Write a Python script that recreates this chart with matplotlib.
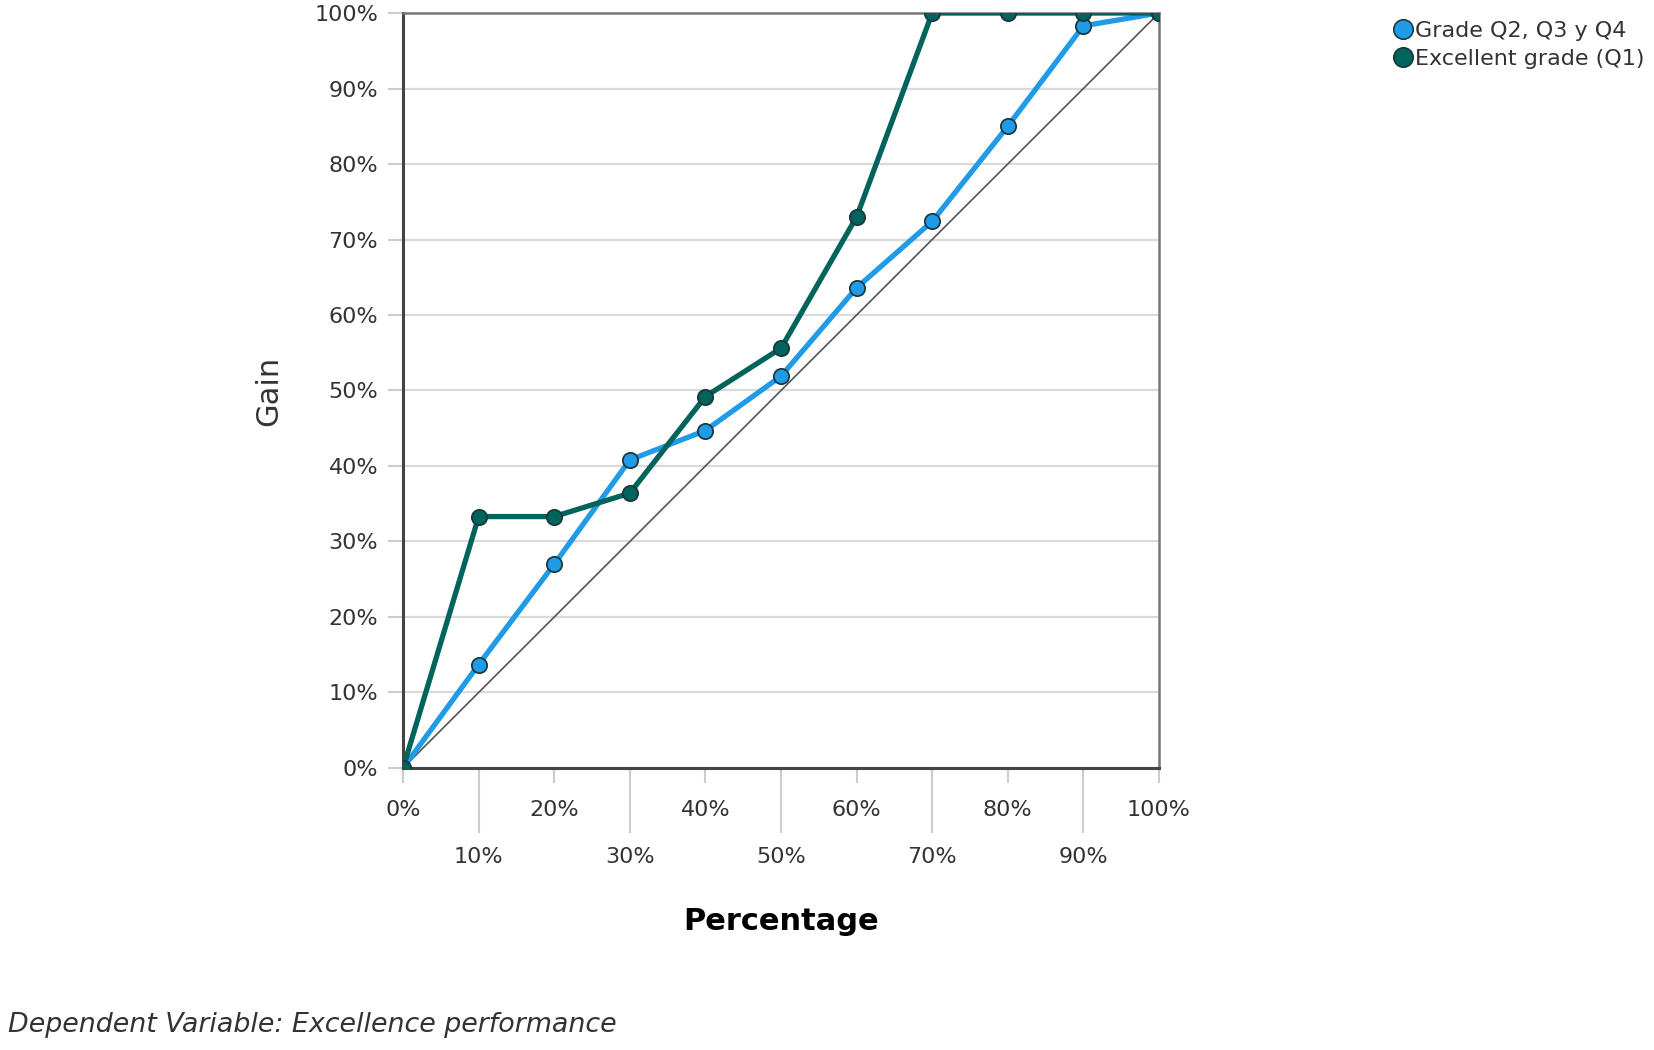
import matplotlib
matplotlib.use('Agg')
import matplotlib.pyplot as plt
from matplotlib.ticker import FixedLocator, FuncFormatter

# gain chart data (percent)
pct = [0, 10, 20, 30, 40, 50, 60, 70, 80, 90, 100]
gain_rest = [0, 13.7, 27.0, 40.8, 44.7, 51.9, 63.6, 72.4, 85.0, 98.3, 100]
gain_q1 = [0, 33.3, 33.3, 36.4, 49.2, 55.6, 73.0, 100, 100, 100, 100]
series_names = ['Grade Q2, Q3 y Q4', 'Excellent grade (Q1)']
major_x = [0, 20, 40, 60, 80, 100]
minor_x = [10, 30, 50, 70, 90]
y_ticks = [0, 10, 20, 30, 40, 50, 60, 70, 80, 90, 100]

BLUE = '#1f9be8'
GREEN = '#00645c'
EDGE = '#1a3a40'

fig = plt.figure(figsize=(16.54, 10.5), dpi=100)
ax = fig.add_axes([0.2437, 0.2686, 0.4570, 0.7190])

ax.plot([0, 100], [0, 100], color='#555555', linewidth=1.2, zorder=2)
ax.plot(pct, gain_rest, color=BLUE, linewidth=3.8, marker='o', markersize=11,
        markerfacecolor=BLUE, markeredgecolor=EDGE, markeredgewidth=1.3, zorder=3,
        label=series_names[0])
ax.plot(pct, gain_q1, color=GREEN, linewidth=3.8, marker='o', markersize=11,
        markerfacecolor=GREEN, markeredgecolor=EDGE, markeredgewidth=1.3, zorder=4,
        label=series_names[1])

ax.set_xlim(0, 100)
ax.set_ylim(0, 100)

pct_fmt = FuncFormatter(lambda v, p: f'{int(round(v))}%')
ax.xaxis.set_major_locator(FixedLocator(major_x))
ax.xaxis.set_minor_locator(FixedLocator(minor_x))
ax.xaxis.set_major_formatter(pct_fmt)
ax.xaxis.set_minor_formatter(pct_fmt)
ax.set_yticks(y_ticks)
ax.yaxis.set_major_formatter(pct_fmt)

ax.tick_params(axis='x', which='major', length=11, width=1.5, color='#cccccc',
               pad=12, labelsize=16, labelcolor='#333333')
ax.tick_params(axis='x', which='minor', length=47, width=1.5, color='#cccccc',
               pad=10, labelsize=16, labelcolor='#333333')
ax.tick_params(axis='y', length=11, width=1.5, color='#cccccc',
               pad=7, labelsize=16, labelcolor='#333333')

ax.grid(axis='y', color='#dadada', linewidth=1.6, zorder=0)
ax.set_axisbelow(True)

for side in ['left', 'bottom']:
    ax.spines[side].set_color('#444444')
    ax.spines[side].set_linewidth(2.2)
for side in ['top', 'right']:
    ax.spines[side].set_color('#777777')
    ax.spines[side].set_linewidth(1.8)

ax.set_ylabel('Gain', fontsize=22, color='#333333', labelpad=22)
ax.set_xlabel('Percentage', fontsize=22, fontweight='bold', labelpad=29)

handles = [plt.Line2D([], [], linestyle='none', marker='o', markersize=14,
                      markerfacecolor=c, markeredgecolor=EDGE, markeredgewidth=1.2)
           for c in [BLUE, GREEN]]
fig.legend(handles, series_names, loc='upper left', bbox_to_anchor=(0.832, 0.995),
           frameon=False, fontsize=16, handletextpad=0.05, labelspacing=0.35,
           handlelength=1.0, borderaxespad=0.3, labelcolor='#333333')

fig.text(0.005, 0.0238, 'Dependent Variable: Excellence performance', fontsize=19.4,
         style='italic', color='#333333', va='center')

plt.savefig('out.png', dpi=100)
